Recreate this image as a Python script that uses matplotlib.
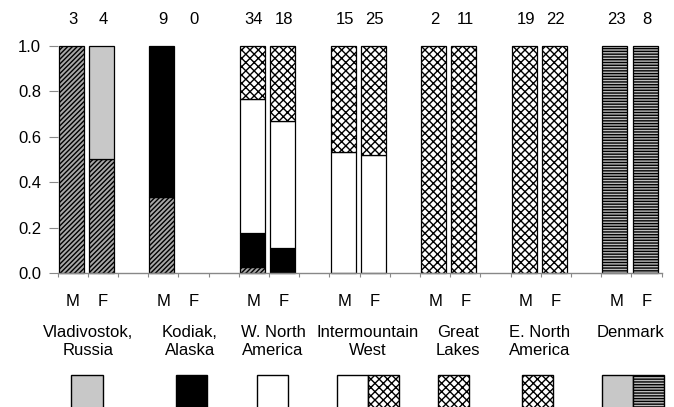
import numpy as np
import matplotlib
matplotlib.use("Agg")
import matplotlib.pyplot as plt
from matplotlib.patches import Rectangle

plt.rcParams['font.family'] = ['Liberation Sans', 'DejaVu Sans']
plt.rcParams['hatch.linewidth'] = 1.0

# === Data ===
regions = ["Vladivostok,\nRussia", "Kodiak,\nAlaska", "W. North\nAmerica",
           "Intermountain\nWest", "Great\nLakes", "E. North\nAmerica", "Denmark"]
sexes = ["M", "F"]
sample_n = [3, 4, 9, 0, 34, 18, 15, 25, 2, 11, 19, 22, 23, 8]

# haplotype counts per bar (M, F for each region), stacked bottom -> top
hap_hatched = [3, 2, 3, 0, 1, 0, 0, 0, 0, 0, 0, 0, 0, 0]
hap_gray = [0, 2, 0, 0, 0, 0, 0, 0, 0, 0, 0, 0, 0, 0]
hap_black = [0, 0, 6, 0, 5, 2, 0, 0, 0, 0, 0, 0, 0, 0]
hap_white = [0, 0, 0, 0, 20, 10, 8, 13, 0, 0, 0, 0, 0, 0]
hap_cross = [0, 0, 0, 0, 8, 6, 7, 12, 2, 11, 19, 22, 0, 0]
hap_striped = [0, 0, 0, 0, 0, 0, 0, 0, 0, 0, 0, 0, 23, 8]

# legend key under each region
region_keys = [["gray"], ["black"], ["white"], ["white", "cross"],
               ["cross"], ["cross"], ["gray", "striped"]]

# === Styles ===
styles = {
    "hatched": dict(facecolor="#a8a8a8", hatch="///////"),
    "gray": dict(facecolor="#c8c8c8", hatch=None),
    "black": dict(facecolor="black", hatch=None),
    "white": dict(facecolor="white", hatch=None),
    "cross": dict(facecolor="white", hatch="xxxx"),
    "striped": dict(facecolor="#bcbcbc", hatch="------"),
}
layers = [("hatched", hap_hatched), ("gray", hap_gray), ("black", hap_black),
          ("white", hap_white), ("cross", hap_cross), ("striped", hap_striped)]

label_offset = [0.0, 0.38, 0.13, 0.27, 0.25, -0.04, -0.02]
key_offset = [-0.03, 0.43, 0.11, 0.27, 0.12, -0.1, 0.04]

fig = plt.figure(figsize=(6.74, 4.07), dpi=100)
ax = fig.add_axes([0.0856, 0.3285, 0.8961, 0.5595])

n = np.array(sample_n, dtype=float)
slots = np.array([3 * (k // 2) + (k % 2) for k in range(len(sample_n))])
xpos = slots + 0.45
bottom = np.zeros(len(sample_n))
for name, counts in layers:
    frac = np.divide(np.array(counts, dtype=float), n, out=np.zeros_like(n), where=n > 0)
    st = styles[name]
    for i in range(len(frac)):
        if frac[i] > 0:
            ax.bar(xpos[i], frac[i], width=0.83, bottom=bottom[i], color=st["facecolor"],
                   hatch=st["hatch"], edgecolor="black", linewidth=0.9, clip_on=False)
    bottom += frac

# sample sizes above bars, sex labels below
for i in range(len(sample_n)):
    ax.text(slots[i] + 0.5, 1.116, str(sample_n[i]), ha="center", va="center", fontsize=12)
    ax.text(slots[i] + 0.5, -0.123, sexes[i % 2], ha="center", va="center", fontsize=12)

# region names and legend keys
for g, name in enumerate(regions):
    cx = 3 * g + 1
    ax.text(cx + label_offset[g], -0.225, name, ha="center", va="top", fontsize=12,
            linespacing=1.3, clip_on=False)
    keys = region_keys[g]
    w = 1.03
    x0 = cx + key_offset[g] - w * len(keys) / 2
    for j, key in enumerate(keys):
        st = styles[key]
        ax.add_patch(Rectangle((x0 + j * w, -0.60), w, 0.153, facecolor=st["facecolor"],
                               hatch=st["hatch"], edgecolor="black", linewidth=1.0,
                               clip_on=False))

ax.set_xlim(0, 20)
ax.set_ylim(0, 1.0)
ax.set_xticks(np.arange(0, 21))
ax.set_xticklabels([])
ax.set_yticks(np.arange(0, 1.01, 0.2))
ax.set_yticklabels([f"{v:.1f}" for v in np.arange(0, 1.01, 0.2)], fontsize=12)
ax.tick_params(axis="y", length=6.5, width=0.8, color="#888888", pad=5.5)
ax.tick_params(axis="x", length=3, width=0.8, color="#888888")
for side in ["top", "right", "left"]:
    ax.spines[side].set_visible(False)
ax.spines["bottom"].set_color("#888888")
ax.spines["bottom"].set_linewidth(1.0)

fig.savefig("out.png", dpi=100)
